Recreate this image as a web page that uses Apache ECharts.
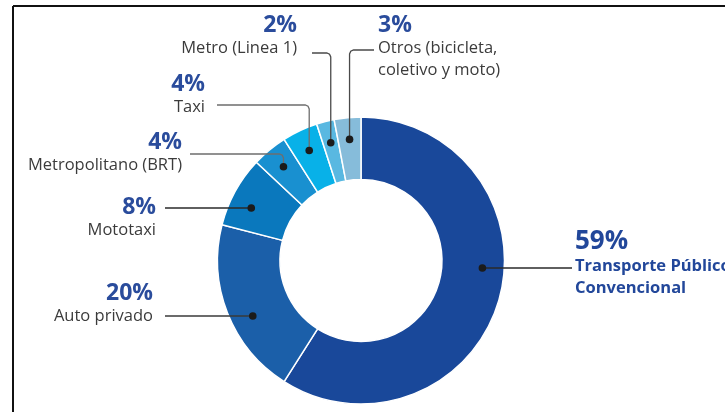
<!DOCTYPE html>
<html>
<head>
<meta charset="utf-8">
<script src="https://cdn.jsdelivr.net/npm/echarts@6/dist/echarts.min.js"></script>
<style>
html,body{margin:0;padding:0;background:#fff;}
#chart{width:725px;height:412px;}
</style>
</head>
<body>
<div id="chart"></div>
<script>
// ---- data ----
const categories = ['Transporte Público Convencional', 'Auto privado', 'Mototaxi', 'Metropolitano (BRT)', 'Taxi', 'Metro (Linea 1)', 'Otros (bicicleta, coletivo y moto)'];
const labelTexts = ['Transporte Público\nConvencional', 'Auto privado', 'Mototaxi', 'Metropolitano (BRT)', 'Taxi', 'Metro (Linea 1)', 'Otros (bicicleta,\ncoletivo y moto)'];
const shares = [59, 20, 8, 4, 4, 2, 3];

// ---- styles / layout ----
const colors = ['#19489a', '#1b5fa9', '#0a78bd', '#1990d0', '#08b1e8', '#59b8e1', '#86bcda'];
const FONT = '"Open Sans", "Noto Sans", sans-serif';
// leader layout: kind 'h' = horizontal line from ring; 'v' = vertical up then horizontal
const leaders = [
  {kind: 'h', lineY: 268, endX: 572, tx: 575, ty: 264, align: 'left', color: '#2a2a2a'},
  {kind: 'h', lineY: 316, endX: 165, tx: 153, ty: 304, align: 'right', color: '#3a3a3a'},
  {kind: 'h', lineY: 208, endX: 165, tx: 156, ty: 218, align: 'right', color: '#2a2a2a'},
  {kind: 'v', lineY: 154, endX: 190, tx: 182, ty: 153, align: 'right', color: '#6e6e6e'},
  {kind: 'v', lineY: 105, endX: 217, tx: 205, ty: 95, align: 'right', color: '#6e6e6e'},
  {kind: 'v', lineY: 53, endX: 312, tx: 297, ty: 36, align: 'right', color: '#4a4a4a'},
  {kind: 'v', lineY: 50, endX: 374, tx: 378, ty: 47, align: 'left', color: '#4a4a4a'}
];

const chart = echarts.init(document.getElementById('chart'), null, {renderer: 'canvas'});

const seriesData = categories.map((c, i) => ({
  name: c,
  value: shares[i],
  itemStyle: {color: colors[i]}
}));

chart.setOption({
  animation: false,
  backgroundColor: '#fff',
  series: [{
    type: 'pie',
    center: [361, 260.5],
    radius: [81, 143.5],
    startAngle: 90,
    clockwise: true,
    avoidLabelOverlap: false,
    itemStyle: {borderColor: '#fff', borderWidth: 1.5},
    label: {show: false},
    labelLine: {show: false},
    data: seriesData
  }]
});

// read the layout computed by the library
const sData = chart.getModel().getSeriesByIndex(0).getData();
const anchors = shares.map((v, i) => {
  const L = sData.getItemLayout(i);
  const mid = (L.startAngle + L.endAngle) / 2;
  const rr = L.r0 + 0.65 * (L.r - L.r0);
  const cosm = Math.cos(mid), sinm = Math.sin(mid);
  const ld = leaders[i];
  let dot;
  if (ld.kind === 'h') {
    const dy = ld.lineY - L.cy;
    const dx = Math.sqrt(Math.max(rr * rr - dy * dy, 0)) * (cosm >= 0 ? 1 : -1);
    dot = [L.cx + dx, ld.lineY];
    return {dot, pts: [dot, [ld.endX, ld.lineY]]};
  } else {
    dot = [L.cx + rr * cosm, L.cy + rr * sinm];
    const dir = ld.endX > dot[0] ? 1 : -1;
    const rc = 4;
    return {dot, pts: [dot, [dot[0], ld.lineY + rc], [dot[0] + dir * rc * 0.3, ld.lineY + rc * 0.3], [dot[0] + dir * rc, ld.lineY], [ld.endX, ld.lineY]]};
  }
});

chart.setOption({
  series: [{
    label: {
      show: true,
      position: 'outside',
      fontFamily: FONT,
      formatter: function (p) {
        const i = p.dataIndex;
        const txt = labelTexts[i].split('\n');
        if (i === 0) {
          return '{pb|' + shares[i] + '%}\n' + txt.map(t => '{nb|' + t + '}').join('\n');
        }
        const a = leaders[i].align === 'left' ? 'l' : 'r';
        return '{p' + a + '|' + shares[i] + '%}\n' + txt.map(t => '{n' + a + '|' + t + '}').join('\n');
      },
      rich: {
        pb: {fontFamily: FONT, fontSize: 26, fontWeight: 'bold', color: '#22479a', lineHeight: 26, align: 'left'},
        nb: {fontFamily: FONT, fontSize: 16.5, fontWeight: 'bold', color: '#22479a', lineHeight: 22, align: 'left'},
        pl: {fontFamily: FONT, fontSize: 23, fontWeight: 'bold', color: '#2a4c9c', lineHeight: 24, align: 'left'},
        nl: {fontFamily: FONT, fontSize: 16.5, color: '#3b3b3b', lineHeight: 22, align: 'left'},
        pr: {fontFamily: FONT, fontSize: 23, fontWeight: 'bold', color: '#2a4c9c', lineHeight: 24, align: 'right'},
        nr: {fontFamily: FONT, fontSize: 16.5, color: '#3b3b3b', lineHeight: 22, align: 'right'}
      }
    },
    labelLine: {show: false},
    labelLayout: function (params) {
      const ld = leaders[params.dataIndex];
      return {x: ld.tx, y: ld.ty, align: ld.align, verticalAlign: 'middle'};
    }
  }],
  graphic: [
    {type: 'line', silent: true, shape: {x1: 13, y1: 6, x2: 725, y2: 6}, style: {stroke: '#111', lineWidth: 2}},
    {type: 'line', silent: true, shape: {x1: 13, y1: 6, x2: 13, y2: 412}, style: {stroke: '#111', lineWidth: 2}}
  ].concat(anchors.map((a, i) => ({
    type: 'polyline', silent: true, z: 99,
    shape: {points: a.pts},
    style: {stroke: leaders[i].color, lineWidth: 1.3, fill: null}
  }))).concat(anchors.map(a => ({
    type: 'circle', silent: true, z: 100,
    shape: {cx: a.dot[0], cy: a.dot[1], r: 3.8},
    style: {fill: '#1b1b1b'}
  })))
});
</script>
</body>
</html>
